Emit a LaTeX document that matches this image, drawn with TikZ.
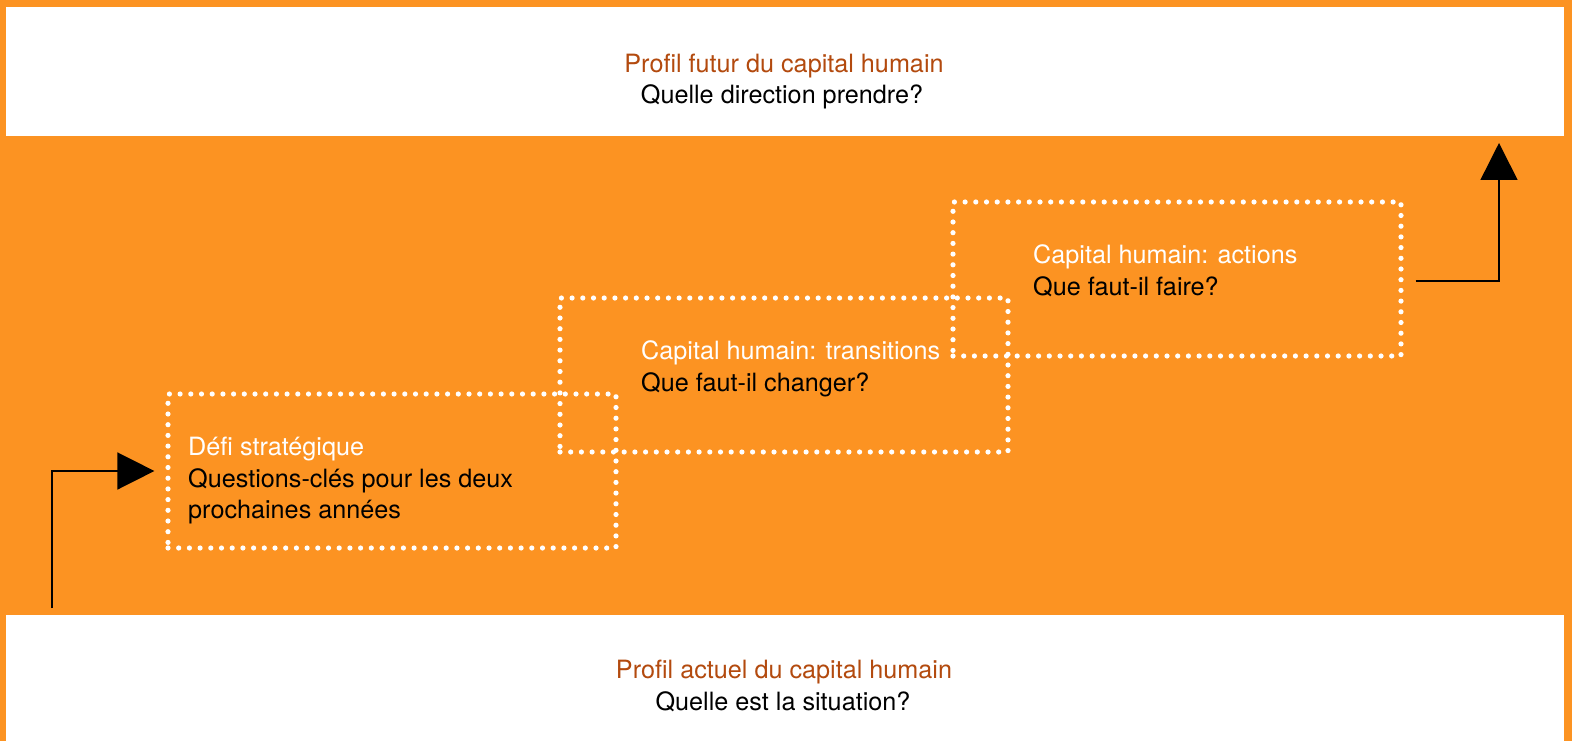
\documentclass[tikz,border=0pt]{standalone}
\usepackage{fontspec}
\setmainfont{TeX Gyre Heros}
\usetikzlibrary{arrows.meta}
\definecolor{bgorange}{HTML}{FC9322}
\definecolor{titlebrown}{HTML}{B34A0E}
\begin{document}
\begin{tikzpicture}[x=1pt,y=-1pt,
  band/.style={fill=white, draw=none, inner sep=0pt, minimum width=1558pt},
  stagebox/.style={draw=white, line width=5.2pt, dash pattern=on 0pt off 10.7pt,
    line cap=round, minimum width=448pt, minimum height=154pt, inner sep=0pt},
  txt/.style={font=\fontsize{25.2}{31.5}\selectfont, inner sep=0pt},
  head/.style={txt, text=titlebrown, anchor=base},
  ask/.style={txt, text=black},
  stagehead/.style={txt, text=white, anchor=base west},
  flow/.style={line width=1.5pt, draw=black, -{Triangle[length=37pt,width=37pt]}}
]
\useasboundingbox (0,0) rectangle (1572,741);
% orange ground
\fill[bgorange] (0,0) rectangle (1572,741);

% white bands at top and bottom
\node[band, minimum height=129pt, anchor=north west] (topband) at (6,7) {};
\node[band, minimum height=126pt, anchor=north west] (botband) at (6,615) {};

\node[head] (toptitle) at (784,73) {Profil futur du capital humain};
\node[ask, anchor=base] (topask) at (782,104) {Quelle direction prendre?};
\node[head] (bottitle) at (784,678) {Profil actuel du capital humain};
\node[ask, anchor=base] (botask) at (783,710) {Quelle est la situation?};

% three dotted stage boxes
\node[stagebox] (box1) at (392,471) {};
\node[stagebox] (box2) at (784,375) {};
\node[stagebox] (box3) at (1177,279) {};

\node[stagehead] (h1) at (188,455) {Défi stratégique};
\node[ask, anchor=base west] (q1a) at (188,487) {Questions-clés pour les deux};
\node[ask, anchor=base west] (q1b) at (188,518) {prochaines années};

\node[stagehead] (h2) at (641,359) {Capital humain: transitions};
\node[ask, anchor=base west] (q2) at (641,391) {Que faut-il changer?};

\node[stagehead] (h3) at (1033,263) {Capital humain: actions};
\node[ask, anchor=base west] (q3) at (1033,295) {Que faut-il faire?};

% connectors
\coordinate (start) at (52,608);
\coordinate (goal) at (1499,143);
\draw[flow] (start) |- ([xshift=-11pt]box1.west);
\draw[flow] ([xshift=12pt,yshift=-2pt]box3.east) -| (goal);
\end{tikzpicture}
\end{document}
